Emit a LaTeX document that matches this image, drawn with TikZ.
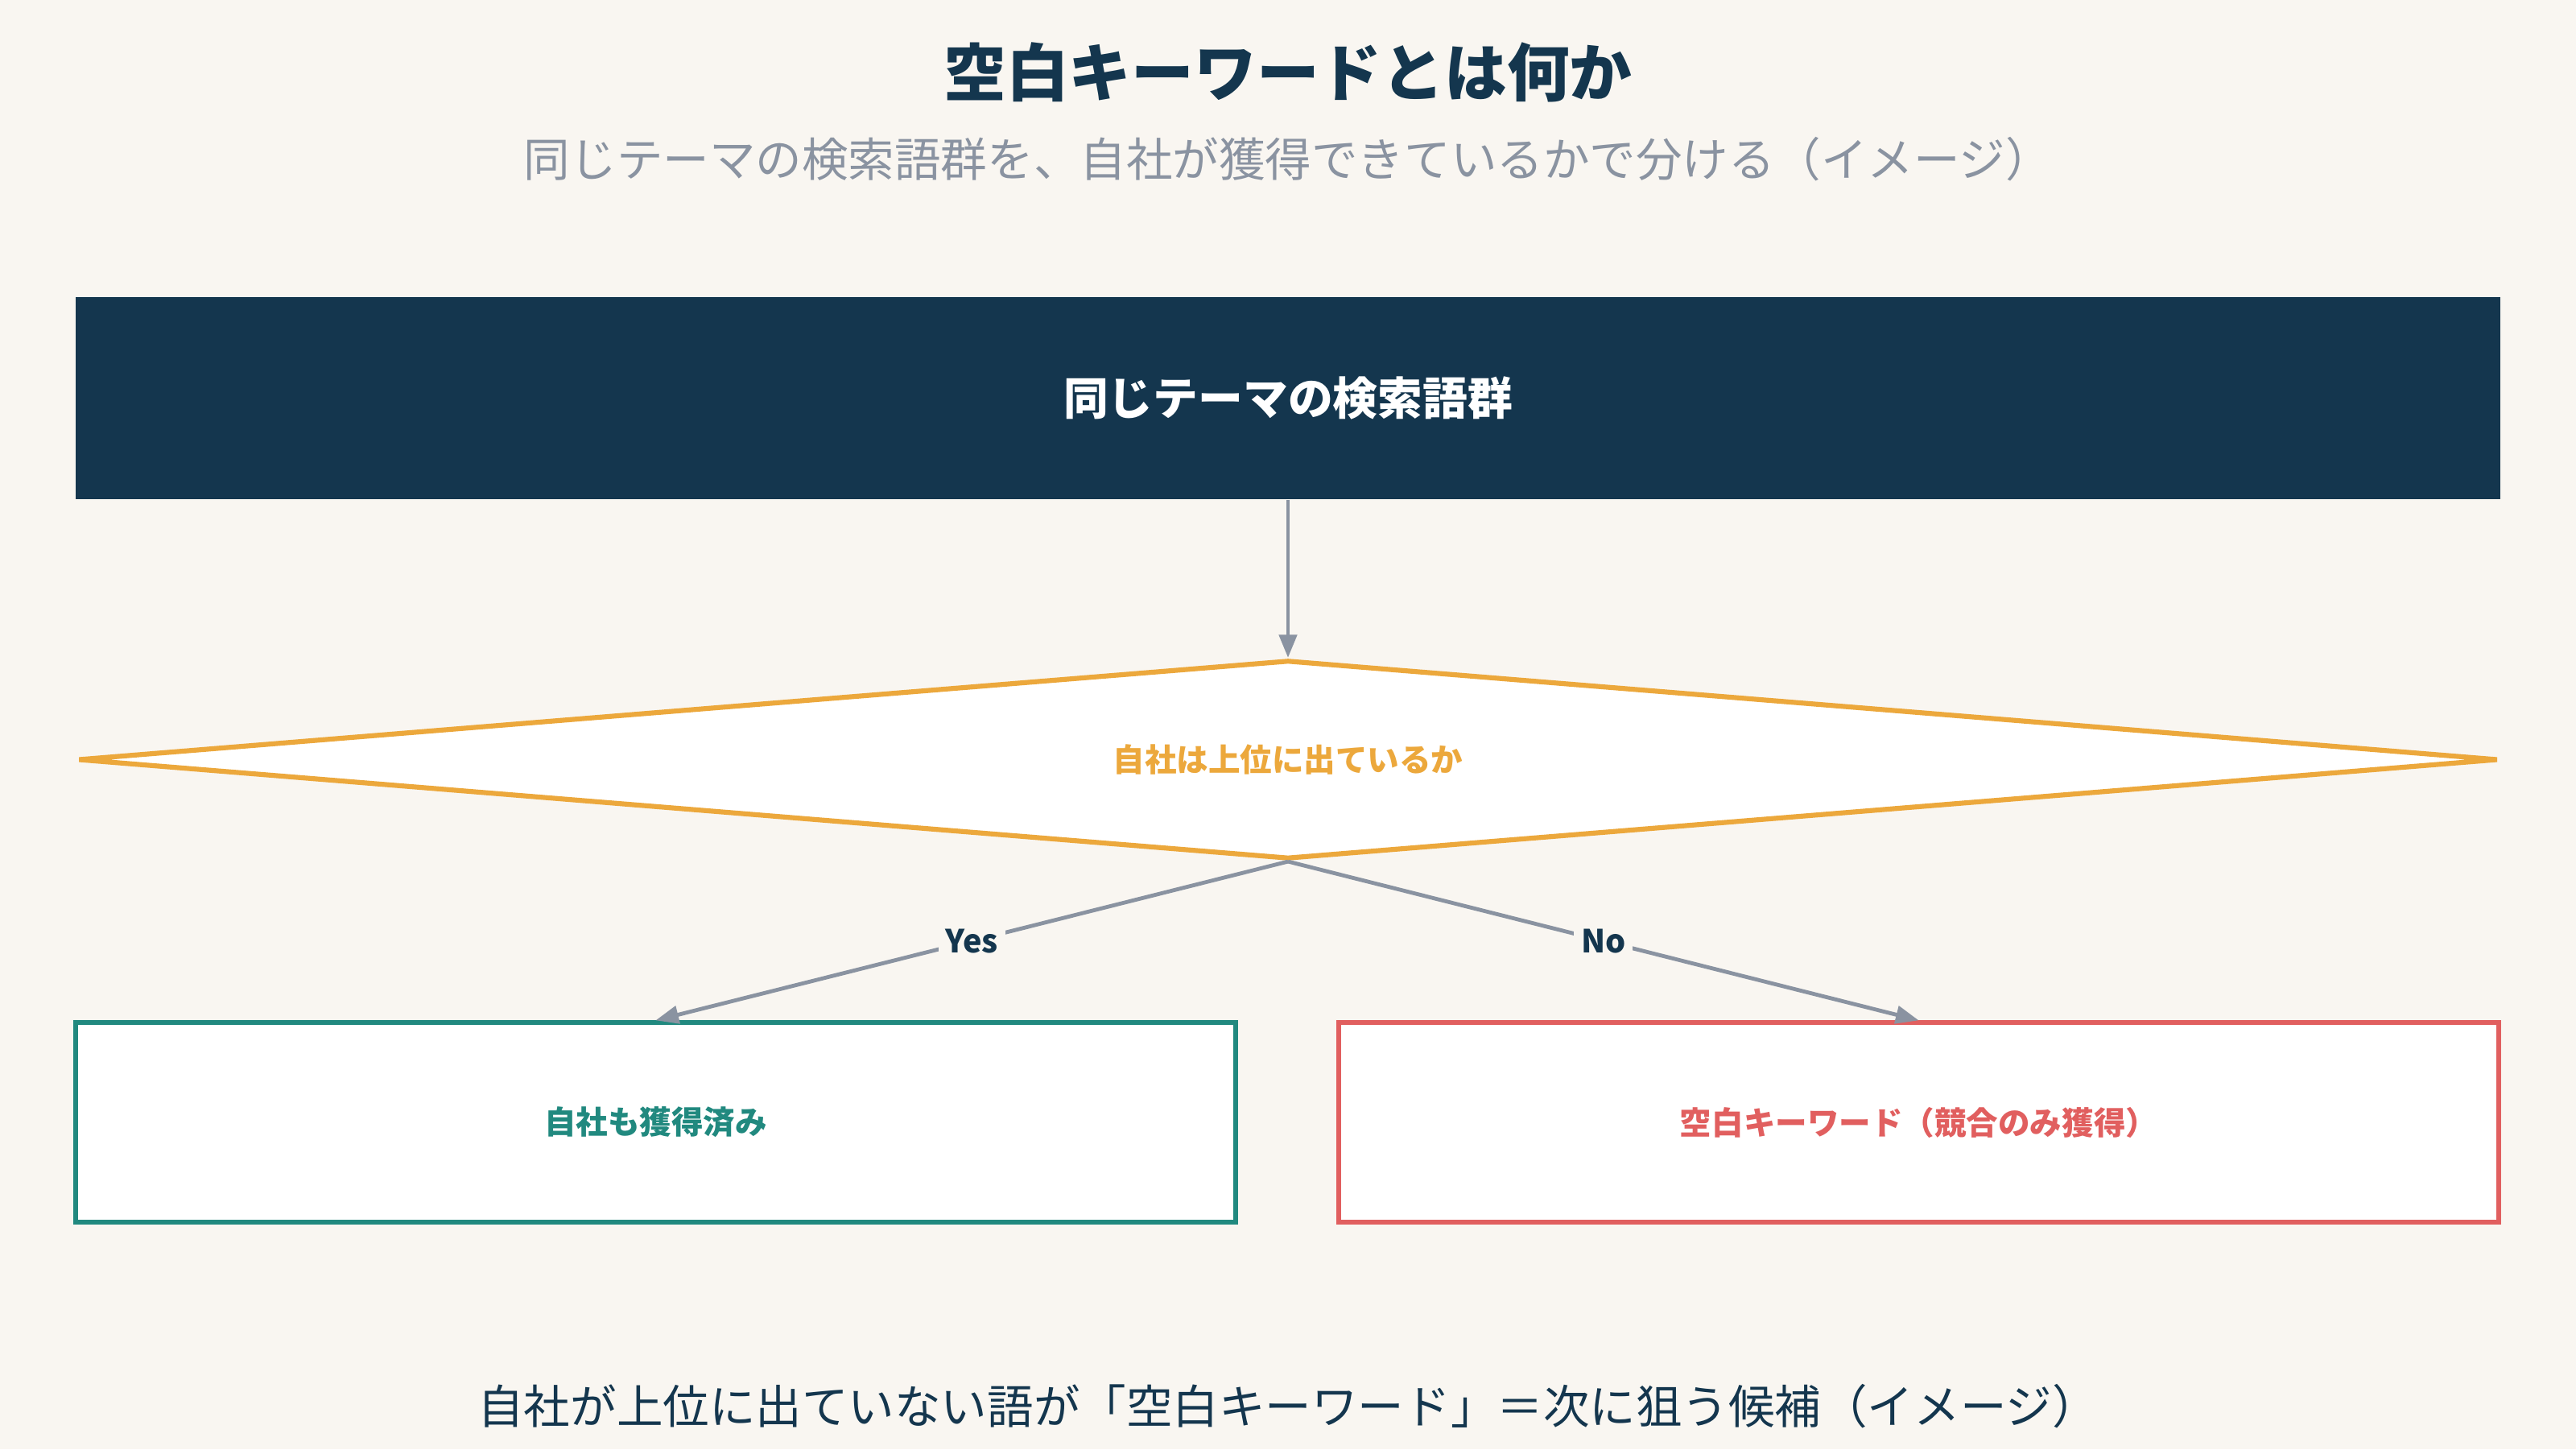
\documentclass[tikz,border=0pt]{standalone}
\usepackage{fontspec}
\setmainfont{Noto Sans CJK JP}
\usetikzlibrary{arrows.meta,positioning,shapes.geometric}
\definecolor{BgClr}{HTML}{F9F6F1}
\definecolor{NavyClr}{HTML}{14364E}
\definecolor{GrayClr}{HTML}{8A93A1}
\definecolor{OrangeClr}{HTML}{ECA83C}
\definecolor{TealClr}{HTML}{21897F}
\definecolor{RedClr}{HTML}{E15F5F}

\begin{document}
\begin{tikzpicture}[x=0.8cm,y=0.8cm,
  box/.style={draw,line width=1.2pt,fill=white,minimum width=11.528cm,minimum height=1.984cm,
    font=\fontsize{9}{11}\selectfont\bfseries},
  link/.style={draw=GrayClr,line width=1.1pt,-{Triangle[length=6.5pt,width=5pt]}},
  lbl/.style={fill=BgClr,text=NavyClr,inner sep=2pt,font=\fontsize{9}{11}\selectfont\bfseries}]

\fill[BgClr] (0,0) rectangle (32,18);

\node[text=NavyClr,font=\fontsize{17.7}{20}\selectfont\bfseries] (title) at (16,17.10) {空白キーワードとは何か};
\node[text=GrayClr,font=\fontsize{13.1}{15}\selectfont] (sub) at (16,16.02) {同じテーマの検索語群を、自社が獲得できているかで分ける（イメージ）};

\node[fill=NavyClr,text=white,minimum width=24.096cm,minimum height=2.008cm,
  font=\fontsize{12.7}{15}\selectfont\bfseries] (terms) at (16,13.055) {同じテーマの検索語群};

\node[diamond,aspect=12.17,draw=OrangeClr,line width=1.4pt,fill=white,inner sep=0pt,
  minimum width=24.048cm,minimum height=1.976cm,text=OrangeClr,
  font=\fontsize{9}{11}\selectfont\bfseries] (rank) at (16,8.565) {自社は上位に出ているか};

\node[box,draw=TealClr,text=TealClr] (won) at (8.145,4.06) {自社も獲得済み};
\node[box,draw=RedClr,text=RedClr] (gap) at (23.835,4.06) {空白キーワード（競合のみ獲得）};

\node[text=NavyClr,font=\fontsize{13.1}{15}\selectfont] (note) at (16,0.53)
  {自社が上位に出ていない語が「空白キーワード」＝次に狙う候補（イメージ）};

\draw[link] (terms.south) -- (rank.north);
\draw[link] (rank.south) -- node[lbl] {Yes} (won.north);
\draw[link] (rank.south) -- node[lbl] {No} (gap.north);

\end{tikzpicture}
\end{document}
